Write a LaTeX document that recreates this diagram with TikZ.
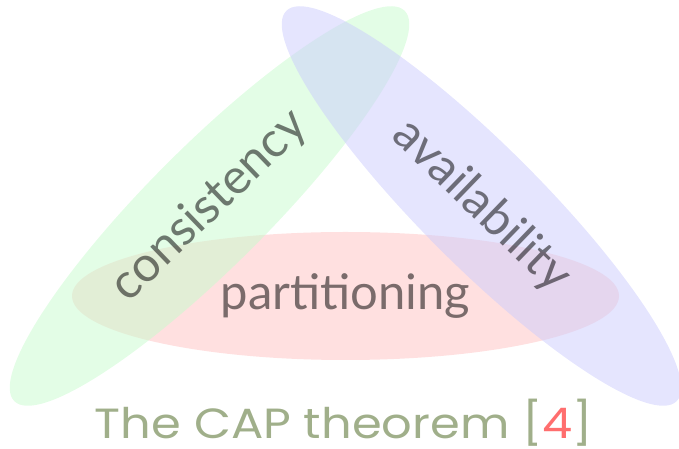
\documentclass[tikz,border=0pt]{standalone}
\usepackage{fontspec}
\setmainfont{Lato}
\newfontfamily\titlefont{Poppins}
\usepackage{graphicx}
\usetikzlibrary{shapes.geometric}
\definecolor{setgreen}{RGB}{199,251,205}
\definecolor{setblue}{RGB}{203,203,253}
\definecolor{setred}{RGB}{255,194,194}
\definecolor{titleolive}{RGB}{160,175,138}
\definecolor{citered}{RGB}{255,110,110}
\begin{document}
\begin{tikzpicture}[x=1pt,y=1pt,
  setshape/.style={ellipse, draw=none, fill opacity=0.5, inner sep=0pt},
  setlabel/.style={text=black, text opacity=0.52, font=\fontsize{49}{53}\selectfont, inner sep=0pt}]
  \useasboundingbox (0,0) rectangle (679,449);
  % the three sets
  \node[setshape, fill=setred, minimum width=547pt, minimum height=128pt] (part) at (345.5,153) {};
  \node[setshape, fill=setgreen, minimum width=552pt, minimum height=120pt, rotate=45] (cons) at (209.5,243) {};
  \node[setshape, fill=setblue, minimum width=552pt, minimum height=120pt, rotate=-45] (avail) at (481.5,243) {};
  % set labels
  \node[setlabel, rotate=44] (consl) at (cons.center) {consistency};
  \node[setlabel, rotate=-44] (availl) at (avail.center) {availability};
  \node[setlabel] (partl) at (part.center) {partitioning};
  % caption
  \node[anchor=base, text=titleolive, inner sep=0pt] (title) at (344,10)
    {\scalebox{1}[0.88]{\resizebox{498pt}{!}{\titlefont\fontsize{40}{44}\selectfont The CAP theorem [{\color{citered}4}]}}};
\end{tikzpicture}
\end{document}
